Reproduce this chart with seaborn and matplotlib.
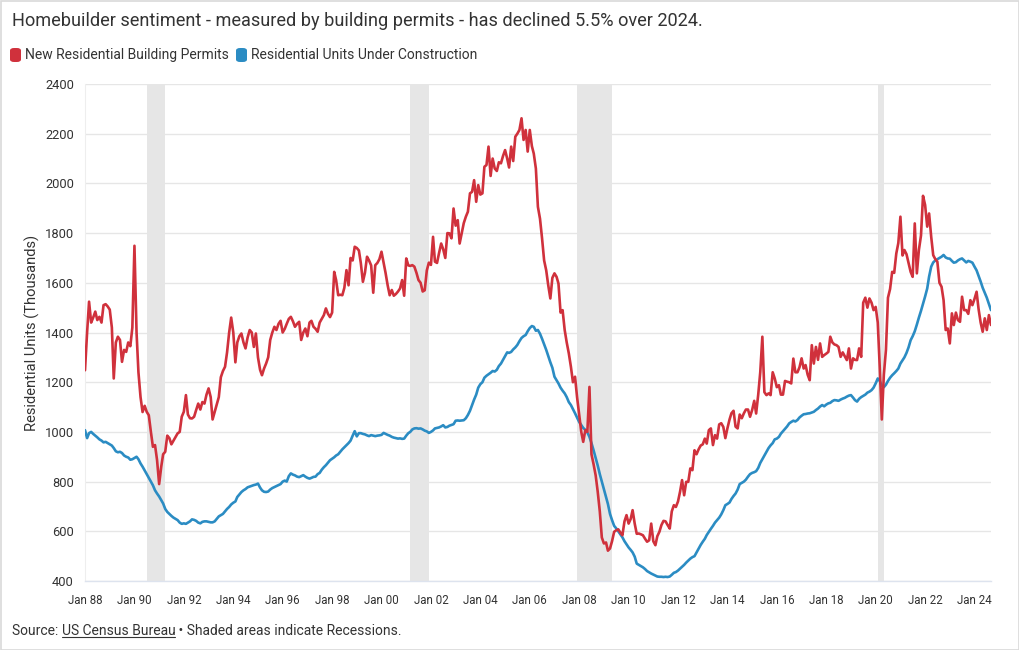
import numpy as np
import pandas as pd
import matplotlib
matplotlib.use("Agg")
import matplotlib.pyplot as plt
import matplotlib.dates as mdates
from matplotlib.patches import Rectangle, FancyBboxPatch
from matplotlib.lines import Line2D
import seaborn as sns

# ---------------- data (monthly, from Jan 1988) ----------------
START = "1988-01-01"

permits = [
    1248, 1400, 1524, 1440, 1460, 1484, 1450, 1463, 1440, 1510, 1514, 1505,
    1492, 1420, 1215, 1360, 1383, 1370, 1282, 1330, 1322, 1360, 1345, 1420,
    1749, 1400, 1240, 1140, 1080, 1105, 1081, 1067, 1000, 940, 947, 887,
    790, 860, 910, 920, 985, 975, 950, 965, 980, 994, 1000, 1061,
    1081, 1148, 1070, 1055, 1054, 1061, 1088, 1114, 1090, 1120, 1114, 1150,
    1175, 1140, 1050, 1080, 1108, 1140, 1220, 1245, 1262, 1320, 1400, 1460,
    1400, 1280, 1360, 1385, 1396, 1360, 1336, 1380, 1410, 1400, 1342, 1396,
    1300, 1250, 1228, 1255, 1275, 1300, 1370, 1400, 1423, 1410, 1435, 1447,
    1400, 1415, 1435, 1455, 1463, 1445, 1423, 1435, 1443, 1370, 1400, 1416,
    1385, 1440, 1447, 1423, 1415, 1403, 1440, 1455, 1470, 1497, 1475, 1462,
    1480, 1644, 1611, 1550, 1552, 1550, 1580, 1651, 1590, 1700, 1690, 1745,
    1740, 1730, 1680, 1604, 1640, 1705, 1690, 1670, 1560, 1671, 1680, 1695,
    1725, 1680, 1640, 1590, 1550, 1571, 1548, 1555, 1565, 1577, 1611, 1548,
    1698, 1670, 1668, 1671, 1665, 1640, 1611, 1600, 1565, 1570, 1650, 1681,
    1672, 1785, 1685, 1680, 1720, 1758, 1735, 1700, 1800, 1799, 1779, 1899,
    1830, 1852, 1758, 1800, 1840, 1866, 1886, 1960, 1966, 2013, 1926, 1993,
    1955, 1960, 2067, 2074, 2148, 2030, 2100, 2060, 2050, 2085, 2081, 2110,
    2134, 2100, 2064, 2148, 2090, 2188, 2200, 2215, 2262, 2175, 2215, 2128,
    2215, 2150, 2120, 2060, 1906, 1858, 1780, 1690, 1650, 1590, 1537, 1620,
    1638, 1624, 1597, 1480, 1490, 1410, 1360, 1316, 1262, 1200, 1222, 1140,
    1070, 1000, 960, 1007, 1000, 1181, 910, 870, 825, 760, 680, 575,
    551, 555, 522, 531, 560, 598, 604, 608, 595, 584, 640, 665,
    631, 650, 685, 631, 590, 591, 588, 584, 570, 558, 564, 631,
    560, 544, 580, 598, 625, 642, 640, 625, 611, 680, 705, 698,
    720, 760, 806, 745, 799, 799, 853, 846, 926, 910, 930, 945,
    950, 973, 953, 1007, 1014, 947, 987, 973, 1030, 1035, 1020, 975,
    1015, 1050, 1075, 1085, 1021, 1014, 1070, 1055, 1075, 1090, 1090, 1061,
    1088, 1125, 1074, 1150, 1240, 1383, 1160, 1148, 1155, 1148, 1240, 1215,
    1180, 1188, 1150, 1150, 1205, 1202, 1200, 1195, 1295, 1240, 1240, 1260,
    1296, 1255, 1269, 1230, 1208, 1349, 1275, 1342, 1290, 1356, 1302, 1309,
    1315, 1322, 1383, 1360, 1352, 1349, 1342, 1302, 1320, 1305, 1289, 1336,
    1255, 1296, 1290, 1289, 1336, 1302, 1520, 1540, 1500, 1537, 1520, 1490,
    1503, 1440, 1262, 1050, 1230, 1330, 1540, 1575, 1644, 1640, 1718, 1760,
    1866, 1710, 1732, 1715, 1680, 1644, 1624, 1839, 1638, 1732, 1790, 1950,
    1913, 1826, 1879, 1785, 1711, 1695, 1685, 1600, 1584, 1530, 1410, 1416,
    1356, 1477, 1430, 1480, 1450, 1443, 1544, 1490, 1490, 1475, 1530, 1510,
    1535, 1564, 1495, 1440, 1403, 1457, 1410, 1470, 1430,
]

under_construction = [
    1007, 975, 995, 1000, 992, 985, 978, 970, 965, 958, 960, 955,
    950, 945, 935, 922, 918, 920, 915, 905, 900, 897, 888, 890,
    895, 900, 890, 873, 860, 845, 830, 815, 800, 785, 765, 752,
    740, 725, 712, 690, 678, 670, 662, 655, 650, 645, 635, 630,
    632, 630, 635, 640, 648, 646, 642, 635, 632, 638, 640, 640,
    638, 636, 636, 640, 650, 660, 665, 670, 680, 690, 698, 708,
    715, 720, 738, 748, 758, 765, 770, 777, 780, 783, 786, 788,
    792, 776, 765, 759, 758, 760, 768, 774, 778, 782, 786, 790,
    800, 804, 800, 822, 833, 828, 825, 820, 818, 822, 826, 820,
    815, 812, 815, 819, 820, 830, 835, 848, 858, 866, 876, 886,
    892, 898, 905, 910, 920, 930, 938, 946, 955, 965, 985, 1003,
    982, 995, 995, 992, 990, 986, 983, 987, 985, 983, 985, 986,
    988, 996, 992, 988, 985, 980, 977, 975, 973, 974, 972, 973,
    985, 995, 1000, 1010, 1014, 1015, 1013, 1014, 1010, 1005, 1002, 996,
    1000, 1006, 1014, 1016, 1018, 1022, 1027, 1018, 1020, 1025, 1028, 1031,
    1045, 1046, 1045, 1046, 1047, 1055, 1068, 1085, 1108, 1130, 1150, 1178,
    1192, 1200, 1218, 1226, 1232, 1238, 1245, 1243, 1250, 1265, 1275, 1290,
    1305, 1320, 1318, 1322, 1332, 1340, 1350, 1365, 1378, 1385, 1390, 1405,
    1418, 1426, 1423, 1407, 1410, 1395, 1375, 1352, 1330, 1305, 1280, 1258,
    1222, 1208, 1195, 1178, 1166, 1155, 1140, 1120, 1108, 1092, 1075, 1058,
    1040, 1028, 1016, 1008, 998, 980, 955, 926, 895, 865, 830, 800,
    768, 738, 710, 670, 645, 622, 612, 600, 588, 576, 560, 548,
    535, 525, 515, 498, 470, 465, 460, 455, 448, 440, 435, 430,
    426, 422, 418, 417, 417, 416, 417, 416, 418, 425, 433, 436,
    442, 450, 458, 465, 474, 482, 490, 496, 500, 515, 530, 545,
    558, 570, 585, 598, 610, 622, 635, 645, 655, 668, 685, 705,
    710, 716, 730, 742, 752, 768, 790, 795, 800, 808, 820, 830,
    835, 838, 842, 855, 875, 890, 905, 920, 935, 946, 955, 970,
    973, 980, 993, 1003, 1013, 1022, 1034, 1040, 1045, 1042, 1048, 1058,
    1065, 1071, 1072, 1074, 1075, 1078, 1081, 1088, 1094, 1102, 1108, 1103,
    1110, 1115, 1117, 1124, 1128, 1127, 1125, 1130, 1134, 1137, 1142, 1146,
    1148, 1138, 1128, 1122, 1133, 1140, 1145, 1150, 1158, 1162, 1168, 1178,
    1195, 1215, 1205, 1185, 1180, 1190, 1205, 1218, 1228, 1236, 1245, 1255,
    1275, 1288, 1300, 1318, 1340, 1369, 1385, 1405, 1432, 1460, 1487, 1515,
    1545, 1577, 1625, 1665, 1682, 1690, 1695, 1700, 1705, 1712, 1702, 1698,
    1697, 1688, 1681, 1683, 1690, 1695, 1698, 1690, 1682, 1688, 1685, 1681,
    1665, 1650, 1628, 1605, 1580, 1560, 1540, 1515, 1490,
]

recessions = [
    ("1990-07-01", "1991-04-01"),
    ("2001-03-01", "2001-12-01"),
    ("2007-12-01", "2009-05-01"),
    ("2020-02-01", "2020-05-01"),
]

series_names = ["New Residential Building Permits",
                "Residential Units Under Construction"]
series_colors = ["#d0313c", "#2b8cc3"]
y_ticks = [400, 600, 800, 1000, 1200, 1400, 1600, 1800, 2000, 2200, 2400]

title = "Homebuilder sentiment - measured by building permits - has declined 5.5% over 2024."
y_label = "Residential Units (Thousands)"
source_parts = ["Source: ", "US Census Bureau", " \u2022 Shaded areas indicate Recessions."]

# ---------------- build frame ----------------
n = len(permits)
dates = pd.date_range(START, periods=n, freq="MS")
df = pd.DataFrame({
    "date": list(dates) + list(dates),
    "value": permits + under_construction,
    "series": [series_names[0]] * n + [series_names[1]] * n,
})

sns.set_theme(style="white")
plt.rcParams["font.family"] = ["Roboto", "DejaVu Sans"]

W, H = 1020, 650
fig = plt.figure(figsize=(W / 100, H / 100), dpi=100)
fig.patch.set_facecolor("white")

ax = fig.add_axes([85 / W, (H - 581) / H, (991 - 85) / W, (581 - 84) / H])

for s, e in recessions:
    ax.axvspan(pd.Timestamp(s), pd.Timestamp(e), color="#e6e6e6", lw=0, zorder=0.5)

sns.lineplot(data=df, x="date", y="value", hue="series",
             palette=dict(zip(series_names, series_colors)),
             hue_order=series_names[::-1],
             linewidth=1.9, legend=False, ax=ax, zorder=3)

ax.set_ylim(400, 2400)
ax.set_yticks(y_ticks)
ax.set_xlim(dates[0], dates[-1])
ax.xaxis.set_major_locator(mdates.YearLocator(2, month=1, day=1))
ax.xaxis.set_major_formatter(mdates.DateFormatter("Jan %y"))

ax.set_axisbelow(True)
ax.yaxis.grid(True, color="#e6e6e6", lw=1)
ax.xaxis.grid(False)
for side in ["top", "right"]:
    ax.spines[side].set_visible(False)
ax.spines["left"].set_color("#eeeeee")
ax.spines["left"].set_linewidth(0.8)
ax.spines["bottom"].set_color("#dde3ee")
ax.spines["bottom"].set_linewidth(1)

ax.tick_params(axis="x", length=5, width=0.8, color="#dde3ee",
               labelsize=8.3, labelcolor="#333333", pad=4)
ax.tick_params(axis="y", length=0, labelsize=9.3, labelcolor="#333333", pad=8)
ax.set_xlabel("")
ax.set_ylabel(y_label, fontsize=10.6, color="#333333")
ax.yaxis.set_label_coords(-(85 - 40) / (991 - 85), 0.5)

# title
fig.text(12 / W, 1 - 21 / H, title, fontsize=13.1, color="#333333",
         ha="left", va="center")

# legend
legend_y = 1 - 55 / H
lx = [10, 236]
for xi, name, col in zip(lx, series_names, series_colors):
    box = FancyBboxPatch((xi / W, (H - 62) / H), 11 / W, 14 / H,
                         boxstyle="round,pad=0,rounding_size=0.004",
                         transform=fig.transFigure, facecolor=col,
                         edgecolor="none")
    fig.patches.append(box)
    fig.text((xi + 15) / W, legend_y, name, fontsize=10.0, color="#333333",
             ha="left", va="center")

# source line with underlined link text
renderer = fig.canvas.get_renderer()
x_cur = 12
ypos = 1 - 631 / H
for i, part in enumerate(source_parts):
    t = fig.text(x_cur / W, ypos, part, fontsize=10.0, color="#333333",
                 ha="left", va="center")
    bb = t.get_window_extent(renderer=renderer)
    if i == 1:
        uy = (bb.y0 + 1) / H
        fig.lines.append(Line2D([bb.x0 / W, bb.x1 / W], [uy, uy],
                                transform=fig.transFigure, color="#333333",
                                lw=0.8))
    x_cur = bb.x1

# outer border
fig.patches.append(Rectangle((0.5 / W, 0.5 / H), 1 - 1 / W, 1 - 1 / H,
                             transform=fig.transFigure, fill=False,
                             edgecolor="#d9d9d9", lw=1.2))

fig.savefig("out.png", dpi=100)
